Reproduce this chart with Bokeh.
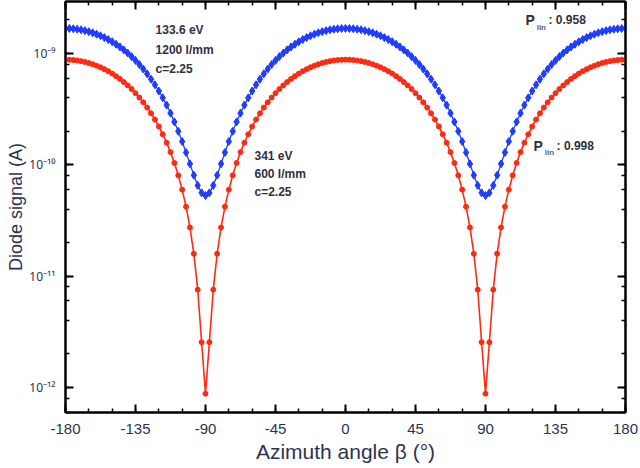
from bokeh.plotting import figure
from bokeh.models import (Range1d, LinearAxis, LogAxis, CustomJSTickFormatter,
                          SingleIntervalTicker, LogTicker, Label, ColumnDataSource)
from bokeh.embed import file_html
from bokeh.resources import INLINE

# ---------------- data ----------------
angle_deg = [
    -180, -177.5, -175, -172.5, -170, -167.5, -165, -162.5, -160, -157.5, -155, -152.5,
    -150, -147.5, -145, -142.5, -140, -137.5, -135, -132.5, -130, -127.5, -125, -122.5,
    -120, -117.5, -115, -112.5, -110, -107.5, -105, -102.5, -100, -97.5, -95, -92.5, -90,
    -87.5, -85, -82.5, -80, -77.5, -75, -72.5, -70, -67.5, -65, -62.5, -60,
    -57.5, -55, -52.5, -50, -47.5, -45, -42.5, -40, -37.5, -35, -32.5, -30,
    -27.5, -25, -22.5, -20, -17.5, -15, -12.5, -10, -7.5, -5, -2.5, 0,
    2.5, 5, 7.5, 10, 12.5, 15, 17.5, 20, 22.5, 25, 27.5, 30,
    32.5, 35, 37.5, 40, 42.5, 45, 47.5, 50, 52.5, 55, 57.5, 60,
    62.5, 65, 67.5, 70, 72.5, 75, 77.5, 80, 82.5, 85, 87.5, 90,
    92.5, 95, 97.5, 100, 102.5, 105, 107.5, 110, 112.5, 115, 117.5, 120,
    122.5, 125, 127.5, 130, 132.5, 135, 137.5, 140, 142.5, 145, 147.5, 150,
    152.5, 155, 157.5, 160, 162.5, 165, 167.5, 170, 172.5, 175, 177.5, 180,
]

# 133.6 eV, 1200 l/mm, c=2.25  (signal in units of 1e-10 A)
signal_133eV = [
    16.80, 16.77, 16.68, 16.52, 16.31, 16.04, 15.71, 15.33, 14.90, 14.42, 13.89, 13.33,
    12.73, 12.10, 11.45, 10.77, 10.08, 9.37, 8.66, 7.96, 7.25, 6.56, 5.88, 5.23,
    4.60, 4.00, 3.44, 2.91, 2.43, 2.00, 1.62, 1.29, 1.02, 0.806, 0.653, 0.560, 0.529,
    0.560, 0.653, 0.806, 1.02, 1.29, 1.62, 2.00, 2.43, 2.91, 3.44, 4.00, 4.60,
    5.23, 5.88, 6.56, 7.25, 7.96, 8.66, 9.37, 10.08, 10.77, 11.45, 12.10, 12.73,
    13.33, 13.89, 14.42, 14.90, 15.33, 15.71, 16.04, 16.31, 16.52, 16.68, 16.77, 16.80,
    16.77, 16.68, 16.52, 16.31, 16.04, 15.71, 15.33, 14.90, 14.42, 13.89, 13.33, 12.73,
    12.10, 11.45, 10.77, 10.08, 9.37, 8.66, 7.96, 7.25, 6.56, 5.88, 5.23, 4.60,
    4.00, 3.44, 2.91, 2.43, 2.00, 1.62, 1.29, 1.02, 0.806, 0.653, 0.560, 0.529,
    0.560, 0.653, 0.806, 1.02, 1.29, 1.62, 2.00, 2.43, 2.91, 3.44, 4.00, 4.60,
    5.23, 5.88, 6.56, 7.25, 7.96, 8.66, 9.37, 10.08, 10.77, 11.45, 12.10, 12.73,
    13.33, 13.89, 14.42, 14.90, 15.33, 15.71, 16.04, 16.31, 16.52, 16.68, 16.77, 16.80,
]

# 341 eV, 600 l/mm, c=2.25  (signal in units of 1e-10 A)
signal_341eV = [
    8.80, 8.78, 8.73, 8.65, 8.53, 8.39, 8.21, 8.00, 7.77, 7.51, 7.23, 6.93,
    6.60, 6.26, 5.91, 5.54, 5.17, 4.79, 4.40, 4.02, 3.64, 3.27, 2.90, 2.55,
    2.21, 1.88, 1.58, 1.30, 1.04, 0.804, 0.598, 0.421, 0.274, 0.159, 0.0756, 0.0255, 0.0088,
    0.0255, 0.0756, 0.159, 0.274, 0.421, 0.598, 0.804, 1.04, 1.30, 1.58, 1.88, 2.21,
    2.55, 2.90, 3.27, 3.64, 4.02, 4.40, 4.79, 5.17, 5.54, 5.91, 6.26, 6.60,
    6.93, 7.23, 7.51, 7.77, 8.00, 8.21, 8.39, 8.53, 8.65, 8.73, 8.78, 8.80,
    8.78, 8.73, 8.65, 8.53, 8.39, 8.21, 8.00, 7.77, 7.51, 7.23, 6.93, 6.60,
    6.26, 5.91, 5.54, 5.17, 4.79, 4.40, 4.02, 3.64, 3.27, 2.90, 2.55, 2.21,
    1.88, 1.58, 1.30, 1.04, 0.804, 0.598, 0.421, 0.274, 0.159, 0.0756, 0.0255, 0.0088,
    0.0255, 0.0756, 0.159, 0.274, 0.421, 0.598, 0.804, 1.04, 1.30, 1.58, 1.88, 2.21,
    2.55, 2.90, 3.27, 3.64, 4.02, 4.40, 4.79, 5.17, 5.54, 5.91, 6.26, 6.60,
    6.93, 7.23, 7.51, 7.77, 8.00, 8.21, 8.39, 8.53, 8.65, 8.73, 8.78, 8.80,
]

x_ticks_interval = 45
x_limits = (-180, 180)
y_limits = (5.96e-13, 2.93e-9)

# ---------------- figure ----------------
FONT = "Liberation Sans"
TXT = "#2c3350"

src = ColumnDataSource(dict(
    angle=angle_deg,
    blue=[v * 1e-10 for v in signal_133eV],
    red=[v * 1e-10 for v in signal_341eV],
))

p = figure(width=640, height=468, y_axis_type="log",
           x_range=Range1d(*x_limits), y_range=Range1d(*y_limits),
           output_backend="svg", toolbar_location=None,
           min_border_left=65, min_border_right=15, min_border_top=1, min_border_bottom=56)
p.grid.visible = False
p.outline_line_color = "black"
p.outline_line_width = 2
p.background_fill_color = "white"
p.border_fill_color = "white"

sup = CustomJSTickFormatter(code="""
const m = {'-':'\u207b','0':'\u2070','1':'\u00b9','2':'\u00b2','3':'\u00b3','4':'\u2074',
           '5':'\u2075','6':'\u2076','7':'\u2077','8':'\u2078','9':'\u2079'};
const e = Math.round(Math.log10(tick));
return '10' + String(e).split('').map(c => m[c]).join('');
""")
plain = CustomJSTickFormatter(code="return String(Math.round(tick));")
blank = CustomJSTickFormatter(code="return '';")


def style_axis(ax):
    ax.axis_line_width = 2
    ax.axis_line_color = "black"
    ax.major_tick_in = 8
    ax.major_tick_out = 0
    ax.minor_tick_in = 4
    ax.minor_tick_out = 0
    ax.major_tick_line_width = 2
    ax.minor_tick_line_width = 1.5
    ax.major_label_text_font = FONT
    ax.major_label_text_color = TXT
    ax.axis_label_text_font = FONT
    ax.axis_label_text_color = TXT
    ax.axis_label_text_font_style = "normal"


xa = p.xaxis[0]
xa.ticker = SingleIntervalTicker(interval=x_ticks_interval, num_minor_ticks=3)
xa.formatter = plain
style_axis(xa)
xa.major_label_text_font_size = "15px"
xa.major_label_standoff = 11
xa.axis_label = "Azimuth angle \u03b2 (\u00b0)"
xa.axis_label_text_font_size = "21px"
xa.axis_label_standoff = 3

ya = p.yaxis[0]
ya.ticker = LogTicker()
ya.formatter = sup
style_axis(ya)
ya.major_label_text_font = "Noto Sans"
ya.major_label_text_font_size = "12px"
ya.major_label_standoff = 10
ya.axis_label = "Diode signal (A)"
ya.axis_label_text_font_size = "18px"
ya.axis_label_standoff = 0

top = LinearAxis(ticker=SingleIntervalTicker(interval=x_ticks_interval, num_minor_ticks=3),
                 formatter=blank)
style_axis(top)
top.major_label_standoff = 0
top.major_label_text_font_size = "0px"
p.add_layout(top, "above")

right = LogAxis(ticker=LogTicker(), formatter=blank)
style_axis(right)
right.major_label_standoff = 0
right.major_label_text_font_size = "0px"
p.add_layout(right, "right")

# ---------------- data marks ----------------
p.line("angle", "blue", source=src, line_color="#1f3cff", line_width=1.3)
p.scatter("angle", "blue", source=src, marker="diamond", size=8,
          fill_color="#1f3cff", line_color="#1f3cff")
p.line("angle", "red", source=src, line_color="#ff2a12", line_width=1.6)
p.scatter("angle", "red", source=src, marker="circle", size=5,
          fill_color="#ff2a12", line_color="#ff2a12")


# ---------------- annotations ----------------
def lab(x, y, text, size="11px", color="#2e3040"):
    p.add_layout(Label(x=x, y=y, text=text, text_font=FONT, text_font_size=size,
                       text_font_style="bold", text_color=color,
                       text_baseline="middle", text_align="left"))


lab(-122.1, 1.61e-9, "133.6 eV", "12px")
lab(-122.1, 1.064e-9, "1200 l/mm", "12px")
lab(-122.1, 7.18e-10, "c=2.25", "12px")

lab(-58.5, 1.21e-10, "341 eV", "12px")
lab(-58.5, 8.35e-11, "600 l/mm", "12px")
lab(-58.5, 5.75e-11, "c=2.25", "12px")

lab(115.7, 1.98e-9, "P", "14px")
lab(122.9, 1.72e-9, "lin", "8px", "#5a6070")
lab(130.5, 1.98e-9, ": 0.958", "12px")

lab(120.9, 1.49e-10, "P", "14px")
lab(128.1, 1.30e-10, "lin", "8px", "#5a6070")
lab(135.7, 1.49e-10, ": 0.998", "12px")

open("out.html", "w").write(file_html(p, INLINE))
